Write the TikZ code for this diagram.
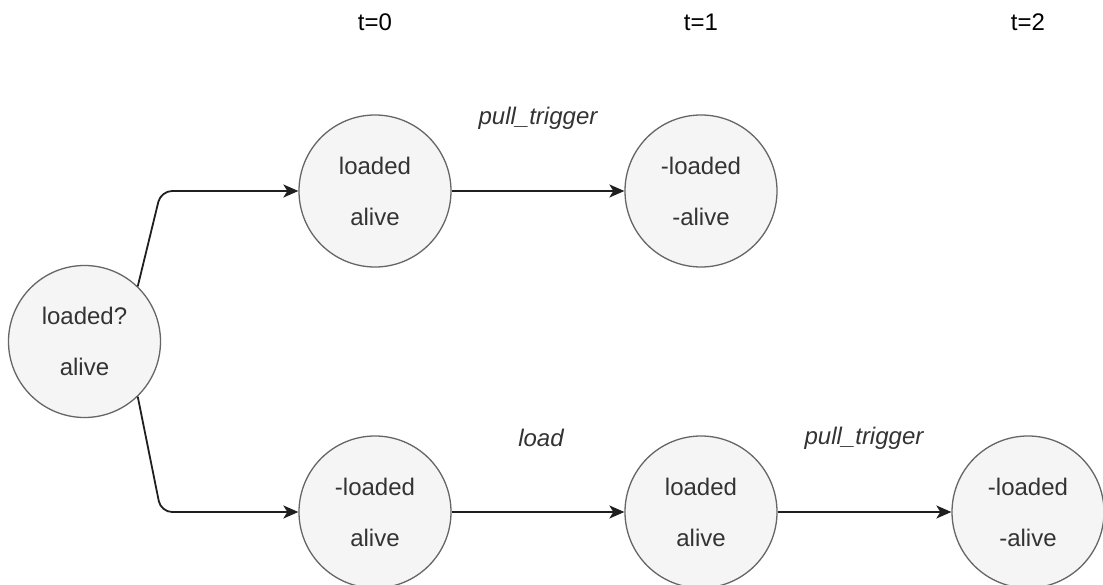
\documentclass[tikz,border=0pt]{standalone}
\usepackage{fontspec}
\setmainfont{Liberation Sans}
\usetikzlibrary{arrows.meta}
\definecolor{statefill}{HTML}{F5F5F5}
\definecolor{stateline}{HTML}{666666}
\definecolor{statetext}{HTML}{333333}
\tikzset{
  state/.style={circle, draw=stateline, fill=statefill, line width=1.3pt,
    minimum size=152pt, inner sep=0pt, text=statetext,
    font=\fontsize{24}{51}\selectfont, align=center},
  flow/.style={line width=1.8pt, draw=black!88,
    -{Stealth[length=15pt,width=13pt,inset=4pt]}},
  action/.style={font=\fontsize{24}{28}\selectfont\itshape, text=statetext},
  tick/.style={font=\fontsize{24}{28}\selectfont, text=black}
}
\begin{document}
\begin{tikzpicture}[x=1pt, y=-1pt]
  \clip (0,0) rectangle (1103,585);
  \fill[white] (0,0) rectangle (1103,585);

  % time columns
  \node[tick] (t0) at (375,22) {t=0};
  \node[tick] (t1) at (701,22) {t=1};
  \node[tick] (t2) at (1028,22) {t=2};

  % states
  \node[state] (root) at (84.5,341.5) {loaded?\\alive};
  \node[state] (a0) at (375,191) {loaded\\alive};
  \node[state] (a1) at (701,191) {-loaded\\-alive};
  \node[state] (b0) at (375,512) {-loaded\\alive};
  \node[state] (b1) at (701,512) {loaded\\alive};
  \node[state] (b2) at (1028,512) {-loaded\\-alive};

  % bends of the branching edges
  \coordinate (ka) at (161,191);
  \coordinate (kb) at (161,512);

  \draw[flow, rounded corners=11pt] (root.46) -- (ka) -- (a0.west);
  \draw[flow, rounded corners=11pt] (root.-46) -- (kb) -- (b0.west);
  \draw[flow] (a0.east) -- (a1.west);
  \draw[flow] (b0.east) -- (b1.west);
  \draw[flow] (b1.east) -- (b2.west);

  % actions
  \node[action] (act1) at (538,118) {pull\_trigger};
  \node[action] (act2) at (541,438) {load};
  \node[action] (act3) at (864,438) {pull\_trigger};
\end{tikzpicture}
\end{document}
